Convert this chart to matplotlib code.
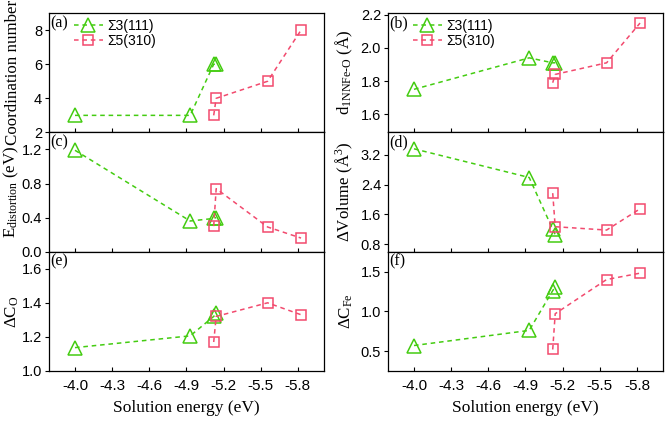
import numpy as np
import matplotlib
matplotlib.use('Agg')
import matplotlib.pyplot as plt

plt.rcParams['font.family'] = ['Liberation Sans', 'DejaVu Sans']
plt.rcParams['axes.unicode_minus'] = False
plt.rcParams['mathtext.fontset'] = 'custom'
plt.rcParams['mathtext.rm'] = 'Liberation Serif'
plt.rcParams['mathtext.it'] = 'Liberation Serif:italic'

# solution energies (eV)
x_s3 = [-4.0, -4.93, -5.12, -5.14]
x_s5 = [-5.12, -5.14, -5.555, -5.825]

# panel data
coord_s3 = [3, 3, 6, 6]
coord_s5 = [3, 4, 5, 8]
dist_s3 = [1.75, 1.94, 1.91, 1.91]
dist_s5 = [1.79, 1.84, 1.91, 2.15]
edis_s3 = [1.19, 0.36, 0.39, 0.40]
edis_s5 = [0.30, 0.74, 0.29, 0.16]
dvol_s3 = [3.36, 2.59, 1.20, 1.06]
dvol_s5 = [2.17, 1.27, 1.18, 1.75]
dco_s3 = [1.137, 1.206, 1.32, 1.34]
dco_s5 = [1.17, 1.32, 1.40, 1.33]
dcfe_s3 = [0.57, 0.76, 1.26, 1.31]
dcfe_s5 = [0.52, 0.97, 1.40, 1.48]

xticks = [-4.0, -4.3, -4.6, -4.9, -5.2, -5.5, -5.8]
green = '#44cc11'
red = '#f24a6e'

panels = [
    ('(a)', coord_s3, coord_s5, 'Coordination number', (2, 9), [2, 4, 6, 8], '%d'),
    ('(b)', dist_s3, dist_s5, r'd$_{\mathrm{1NNFe\text{-}O}}$ (Å)', (1.49, 2.21), [1.6, 1.8, 2.0, 2.2], '%.1f'),
    ('(c)', edis_s3, edis_s5, r'E$_{\mathrm{distortion}}$ (eV)', (0.0, 1.4), [0.0, 0.4, 0.8, 1.2], '%.1f'),
    ('(d)', dvol_s3, dvol_s5, r'ΔVolume (Å$^{3}$)', (0.6, 3.8), [0.8, 1.6, 2.4, 3.2], '%.1f'),
    ('(e)', dco_s3, dco_s5, r'ΔC$_{\mathrm{O}}$', (1.0, 1.7), [1.0, 1.2, 1.4, 1.6], '%.1f'),
    ('(f)', dcfe_s3, dcfe_s5, r'ΔC$_{\mathrm{Fe}}$', (0.25, 1.75), [0.5, 1.0, 1.5], '%.1f'),
]

fig, axes = plt.subplots(3, 2, figsize=(6.71, 4.23), dpi=100, sharex=True)
fig.subplots_adjust(left=0.073, right=0.988, top=0.969, bottom=0.123, hspace=0, wspace=0.233)

for k, (tag, y3, y5, ylab, ylim, yt, fmt) in enumerate(panels):
    ax = axes[k // 2, k % 2]
    ax.plot(x_s3, y3, ls=(0, (3, 2.5)), color=green, lw=1.1, marker='^', ms=10,
            mfc='none', mec=green, mew=1.1, label='Σ3(111)')
    ax.plot(x_s5, y5, ls=(0, (3, 2.5)), color=red, lw=1.1, marker='s', ms=7.5,
            mfc='none', mec=red, mew=1.1, label='Σ5(310)')
    ax.set_xlim(-3.79, -6.01)
    ax.set_xticks(xticks)
    ax.set_xticklabels(['%.1f' % v for v in xticks], fontsize=11)
    ax.set_ylim(*ylim)
    ax.set_yticks(yt)
    ax.set_yticklabels([fmt % v for v in yt], fontsize=10.5)
    ax.tick_params(axis='x', direction='in', length=3, width=0.8, pad=6)
    ax.tick_params(axis='y', direction='out', length=3, width=0.8, pad=2)
    for s in ax.spines.values():
        s.set_linewidth(0.9)
    ax.set_ylabel(ylab, family='Liberation Serif', fontsize=12.2, labelpad=2)
    ax.text(0.004, 0.915, tag, transform=ax.transAxes, family='Liberation Serif',
            fontsize=11.5, va='center', ha='left')
    if k < 2:
        ax.legend(loc='upper left', bbox_to_anchor=(0.055, 1.03), frameon=False,
                  fontsize=10, numpoints=1, handlelength=2.1, handletextpad=0.3,
                  labelspacing=0.05, borderpad=0.2)
    if k >= 4:
        ax.set_xlabel('Solution energy (eV)', family='Liberation Serif', fontsize=12.5, labelpad=5)

for r in range(3):
    axes[r, 0].yaxis.set_label_coords(-0.1, 0.5)
    axes[r, 1].yaxis.set_label_coords(-0.12, 0.5)

fig.savefig('out.png', dpi=100)
